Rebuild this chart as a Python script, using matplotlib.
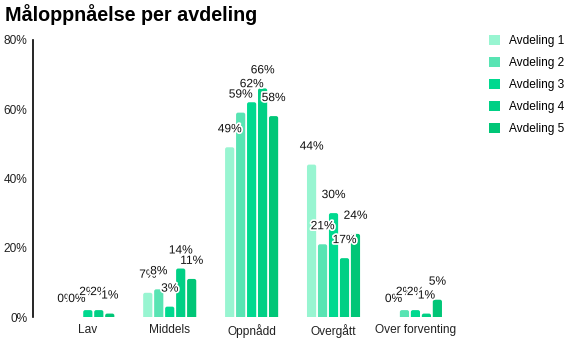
import numpy as np
import matplotlib.pyplot as plt
from matplotlib.patches import FancyBboxPatch, Patch
import matplotlib.patheffects as pe
from matplotlib.ticker import FuncFormatter

plt.rcParams['font.family'] = ['Liberation Sans', 'DejaVu Sans']

# måloppnåelse i prosent per kategori og avdeling
categories = ['Lav', 'Middels', 'Oppnådd', 'Overgått', 'Over forventing']
avdeling_1 = [0, 7, 49, 44, 0]
avdeling_2 = [0, 8, 59, 21, 2]
avdeling_3 = [2, 3, 62, 30, 2]
avdeling_4 = [2, 14, 66, 17, 1]
avdeling_5 = [1, 11, 58, 24, 5]
series_names = ['Avdeling 1', 'Avdeling 2', 'Avdeling 3', 'Avdeling 4', 'Avdeling 5']
colors = ['#98f5d1', '#58e4b3', '#00d98f', '#00d085', '#00c677']

series = [avdeling_1, avdeling_2, avdeling_3, avdeling_4, avdeling_5]
fs = 8.6

fig = plt.figure(figsize=(5.68, 3.38), dpi=100)
ax = fig.add_axes([0.058, 0.062, 0.77, 0.82])

x = np.arange(len(categories))
pitch = 0.134
width = 0.112
r = 2.0  # corner radius in pixels

ax.set_xlim(-0.67, len(categories) - 1 + 0.67)
ax.set_ylim(0, 0.8)
fig.canvas.draw()
bb = ax.get_window_extent()
px_x = bb.width / (ax.get_xlim()[1] - ax.get_xlim()[0])
px_y = bb.height / (ax.get_ylim()[1] - ax.get_ylim()[0])

for k, (vals, col) in enumerate(zip(series, colors)):
    xs = x + (k - 2) * pitch
    fr = np.array(vals) / 100.0
    bars = ax.bar(xs, fr, width=width, color=col, alpha=0)
    for b, v in zip(bars, vals):
        if v > 0:
            # rounded top, bottom pushed below the axis and clipped
            p = FancyBboxPatch((b.get_x(), -0.01), b.get_width(), b.get_height() + 0.01,
                               boxstyle='round,pad=0,rounding_size=%f' % (r / px_x),
                               mutation_aspect=px_x / px_y,
                               facecolor=col, edgecolor='none', clip_on=True)
            ax.add_patch(p)
        ax.annotate('%d%%' % v, (b.get_x() + b.get_width() / 2, b.get_height()),
                    xytext=(0, 13), textcoords='offset points', ha='center', va='center',
                    fontsize=fs, color='#111111',
                    path_effects=[pe.withStroke(linewidth=2.5, foreground='white')])

ax.set_xticks(x)
ax.set_xticklabels(categories, fontsize=fs, color='#222222')
ax.set_yticks([0, 0.2, 0.4, 0.6, 0.8])
ax.yaxis.set_major_formatter(FuncFormatter(lambda v, _: '%d%%' % round(v * 100)))
ax.tick_params(axis='both', length=0, labelsize=fs, labelcolor='#222222')
ax.tick_params(axis='y', pad=4)
ax.tick_params(axis='x', pad=5)
for s in ['top', 'right', 'bottom']:
    ax.spines[s].set_visible(False)
ax.spines['left'].set_linewidth(1.2)
ax.spines['left'].set_color('black')

handles = [Patch(facecolor=c, edgecolor='none') for c in colors]
fig.legend(handles, series_names, loc='upper left', bbox_to_anchor=(0.861, 0.897),
           frameon=False, fontsize=fs, handlelength=0.95, handleheight=0.95,
           handletextpad=0.75, labelspacing=0.82, borderpad=0, borderaxespad=0)

fig.text(0.009, 0.958, 'Måloppnåelse per avdeling', fontsize=14.2, fontweight='bold',
         ha='left', va='center', color='black')

fig.savefig('out.png', dpi=100)
